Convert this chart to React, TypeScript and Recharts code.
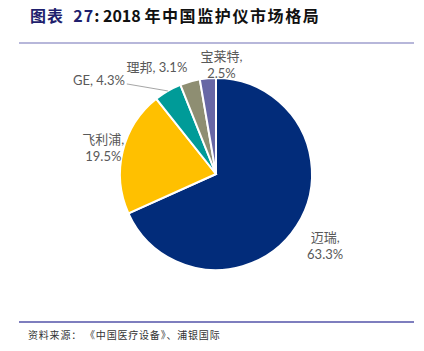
import { Cell, Pie, PieChart } from "recharts";

const vendors = ["迈瑞", "飞利浦", "GE", "理邦", "宝莱特"];
const shares = [63.3, 19.5, 4.3, 3.1, 2.5];
const sliceColors = ["#022C7A", "#FFC000", "#009B98", "#8E8E72", "#6767A5"];

const data = vendors.map((name, i) => ({ name, value: shares[i] }));

// label placement tweaks (layout only): radial gap + nudge, anchor, single/two lines
const labelLayout = [
  { gap: 34, dx: 0, dy: 0, anchor: "middle", twoLine: true },
  { gap: 20, dx: 0, dy: 0, anchor: "middle", twoLine: true },
  { gap: 0, dx: 0, dy: 0, anchor: "end", twoLine: false },
  { gap: 26, dx: -26, dy: 10, anchor: "middle", twoLine: false },
  { gap: 16, dx: 15, dy: 2, anchor: "middle", twoLine: true },
];

const RAD = Math.PI / 180;
const labelFont = "Lato, 'Noto Sans CJK SC', sans-serif";

function renderLabel(props: any) {
  const { cx, cy, midAngle, outerRadius, index } = props;
  const lay = labelLayout[index];
  const text = `${vendors[index]}, ${shares[index].toFixed(1)}%`;
  if (index === 2) {
    const sx = cx + outerRadius * Math.cos(-midAngle * RAD);
    const sy = cy + outerRadius * Math.sin(-midAngle * RAD);
    const ex = sx - 41;
    const ey = sy - 7;
    return (
      <g>
        <path d={`M${sx},${sy}L${ex},${ey}`} stroke="#A6A6A6" strokeWidth={1} fill="none" />
        <text x={ex - 2} y={ey - 4} textAnchor="end" fill="#595959" fontSize={13} fontFamily={labelFont} dominantBaseline="central">
          {text}
        </text>
      </g>
    );
  }
  const r = outerRadius + lay.gap;
  const x = cx + r * Math.cos(-midAngle * RAD) + lay.dx;
  const y = cy + r * Math.sin(-midAngle * RAD) + lay.dy;
  if (!lay.twoLine) {
    return (
      <text x={x} y={y} textAnchor={lay.anchor} fill="#595959" fontSize={13} fontFamily={labelFont} dominantBaseline="central">
        {text}
      </text>
    );
  }
  return (
    <text x={x} y={y} textAnchor={lay.anchor} fill="#595959" fontSize={13} fontFamily={labelFont} dominantBaseline="central">
      <tspan x={x} dy={-8}>{`${vendors[index]},`}</tspan>
      <tspan x={x} dy={17}>{`${shares[index].toFixed(1)}%`}</tspan>
    </text>
  );
}

export default function App() {
  return (
    <div style={{ position: "absolute", left: 0, top: 0, width: 424, height: 351, background: "#fff" }}>
      <div
        style={{
          position: "absolute",
          left: 30,
          top: 4,
          fontFamily: "'Noto Sans CJK SC', sans-serif",
          fontWeight: 700,
          fontSize: 16,
          lineHeight: "22px",
          color: "#111",
          whiteSpace: "nowrap",
        }}
      >
        <span style={{ color: "#1F1F6E", letterSpacing: 1 }}>图表&nbsp; 27</span>: 2018{" "}
        <span style={{ letterSpacing: 1.6 }}>年中国监护仪市场格局</span>
      </div>
      <div style={{ position: "absolute", left: 19, top: 42, width: 395, height: 2, background: "#B7B7DA" }} />
      <PieChart
        width={424}
        height={351}
        margin={{ top: 0, right: 0, bottom: 0, left: 0 }}
        style={{ position: "absolute", left: 0, top: 0 }}
      >
        <Pie
          data={data}
          dataKey="value"
          nameKey="name"
          cx={216}
          cy={174}
          outerRadius={96}
          startAngle={90}
          endAngle={-270}
          stroke="#fff"
          strokeWidth={2}
          label={renderLabel}
          labelLine={false}
          isAnimationActive={false}
        >
          {data.map((d, i) => (
            <Cell key={d.name} fill={sliceColors[i]} />
          ))}
        </Pie>
      </PieChart>
      <div style={{ position: "absolute", left: 19, top: 321, width: 395, height: 1.5, background: "#7E7EBE" }} />
      <div
        style={{
          position: "absolute",
          left: 28,
          top: 328,
          fontFamily: "'Noto Sans CJK SC', sans-serif",
          fontSize: 10,
          lineHeight: "14px",
          color: "#333",
          whiteSpace: "nowrap",
          letterSpacing: 0.8,
        }}
      >
        资料来源：&nbsp;《中国医疗设备》、浦银国际
      </div>
    </div>
  );
}
